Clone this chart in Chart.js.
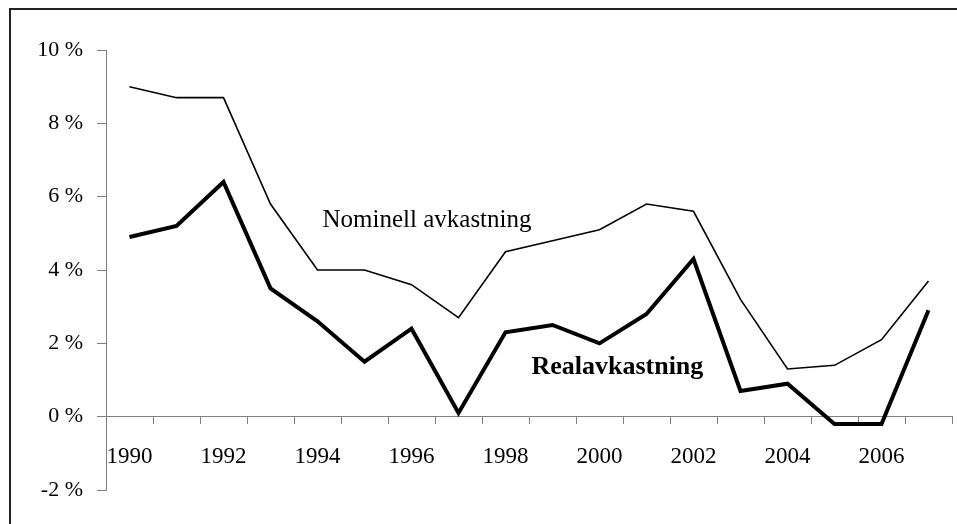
<!DOCTYPE html>
<html>
<head>
<meta charset="utf-8">
<script src="https://cdn.jsdelivr.net/npm/chart.js@4/dist/chart.umd.min.js"></script>
<style>
  html, body { margin: 0; padding: 0; background: #fff; }
  #wrap { position: relative; width: 957px; height: 524px; overflow: hidden; }
  #frame { position: absolute; left: 9px; top: 8px; width: 1000px; height: 600px; border-top: 2px solid #222; border-left: 2px solid #222; box-sizing: border-box; pointer-events: none; }
  canvas { position: absolute; left: 0; top: 0; }
</style>
</head>
<body>
<div id="wrap">
  <canvas id="c" width="957" height="524"></canvas>
  <div id="frame"></div>
</div>
<script>
// Categories (years)
const years = ['1990','1991','1992','1993','1994','1995','1996','1997','1998','1999','2000','2001','2002','2003','2004','2005','2006','2007'];
// Series values (percent)
const nominell = [9.0, 8.7, 8.7, 5.8, 4.0, 4.0, 3.6, 2.7, 4.5, 4.8, 5.1, 5.8, 5.6, 3.2, 1.3, 1.4, 2.1, 3.7];
const real     = [4.9, 5.2, 6.4, 3.5, 2.6, 1.5, 2.4, 0.1, 2.3, 2.5, 2.0, 2.8, 4.3, 0.7, 0.9, -0.2, -0.2, 2.9];
// Y tick values
const yTicks = [-2, 0, 2, 4, 6, 8, 10];
// In-chart labels: text, category position (index), value position
const labelTexts = ['Nominell avkastning', 'Realavkastning'];
const labelCat = [6.33, 10.38];
const labelVal = [5.35, 1.34];
const labelBold = [false, true];

const FONT = "'Liberation Serif', 'Times New Roman', serif";

const labelPlugin = {
  id: 'seriesLabels',
  afterDatasetsDraw(chart) {
    const ctx = chart.ctx;
    const xs = chart.scales.x, ys = chart.scales.y;
    ctx.save();
    ctx.fillStyle = '#000';
    ctx.textAlign = 'center';
    ctx.textBaseline = 'middle';
    labelTexts.forEach((t, i) => {
      ctx.font = (labelBold[i] ? 'bold 26px ' : '25px ') + FONT;
      ctx.fillText(t, xs.getPixelForValue(labelCat[i]), ys.getPixelForValue(labelVal[i]));
    });
    ctx.restore();
  }
};

new Chart(document.getElementById('c'), {
  type: 'line',
  data: {
    labels: years,
    datasets: [
      { label: 'Nominell avkastning', data: nominell, borderColor: '#000', borderWidth: 1.6, pointRadius: 0, tension: 0, fill: false },
      { label: 'Realavkastning', data: real, borderColor: '#000', borderWidth: 4, pointRadius: 0, tension: 0, fill: false }
    ]
  },
  options: {
    responsive: false,
    devicePixelRatio: 1,
    animation: false,
    layout: { padding: { top: 50, bottom: 34, left: 0, right: 5 } },
    plugins: { legend: { display: false }, tooltip: { enabled: false } },
    scales: {
      x: {
        type: 'category',
        position: { y: 0 },
        offset: true,
        grid: { display: true, offset: true, drawOnChartArea: false, drawTicks: true, tickLength: 7, color: '#808080', lineWidth: 1 },
        border: { display: true, color: '#808080', width: 1 },
        ticks: {
          autoSkip: false, maxRotation: 0, minRotation: 0, padding: 19,
          color: '#000', font: { family: FONT, size: 23 },
          callback: function(v, i) { return i % 2 === 0 ? years[i] : ''; }
        }
      },
      y: {
        min: -2, max: 10,
        afterBuildTicks: (s) => { s.ticks = yTicks.map(v => ({ value: v })); },
        afterFit: (s) => { s.width = 106; },
        grid: { display: true, drawOnChartArea: false, drawTicks: true, tickLength: 9, color: '#808080', lineWidth: 1 },
        border: { display: true, color: '#808080', width: 1 },
        ticks: {
          padding: 14, color: '#000', font: { family: FONT, size: 22 },
          callback: (v) => v + ' %'
        }
      }
    }
  },
  plugins: [labelPlugin]
});
</script>
</body>
</html>
